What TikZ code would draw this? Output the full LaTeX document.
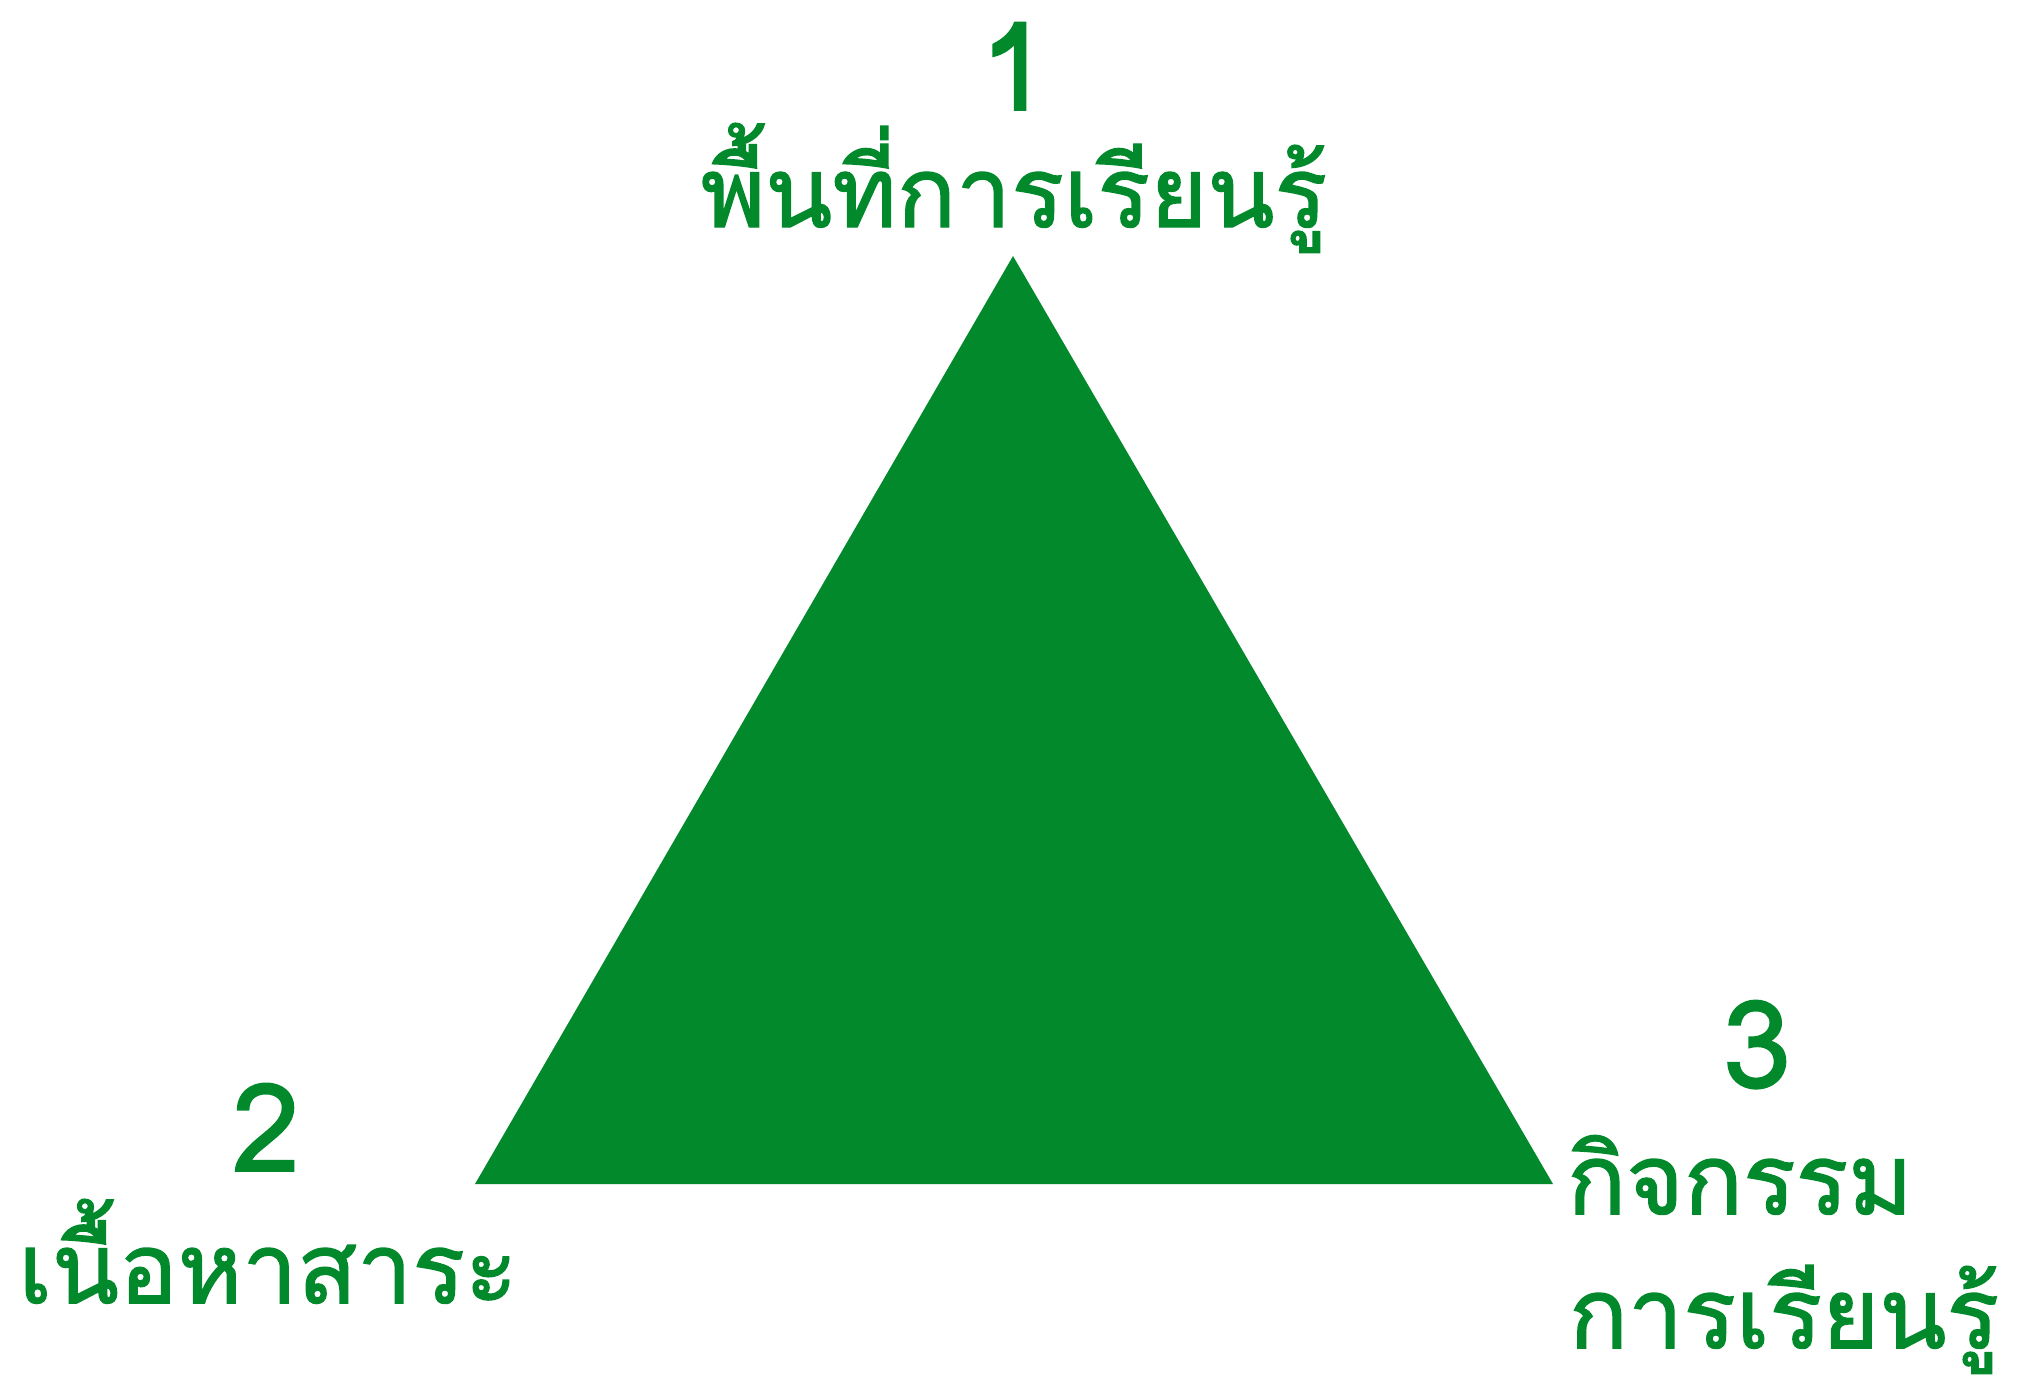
\documentclass[tikz,border=0pt]{standalone}
\usepackage{fontspec}
\newfontfamily\thaifont[Script=Thai,FakeBold=1.5]{Loma}
\definecolor{leafgreen}{RGB}{2, 137, 44}
\usepackage{tikz}

\begin{document}
\begin{tikzpicture}[x=1pt, y=-1pt,
    label/.style={anchor=base, inner sep=0pt, text=leafgreen, font=\thaifont\fontsize{98}{120}\selectfont},
    number/.style={label, font=\thaifont\fontsize{122}{144}\selectfont}]
    \useasboundingbox (0,0) rectangle (2023,1382);

    % Triangle
    \coordinate (apex) at (1013,256);
    \coordinate (left) at (475,1184);
    \coordinate (right) at (1553,1184);
    \fill[leafgreen] (apex) -- (left) -- (right) -- cycle;

    % Top corner
    \node[number] (num1) at (1014,110) {1};
    \node[label] (space) at (1014,227) {พื้นที่การเรียนรู้};

    % Left corner
    \node[number] (num2) at (266,1171) {2};
    \node[label] (content) at (268,1303) {เนื้อหาสาระ};

    % Right corner
    \node[number] (num3) at (1757,1088) {3};
    \node[label] (activity) at (1740,1214) {กิจกรรม};
    \node[label] (learning) at (1784,1348) {การเรียนรู้};
\end{tikzpicture}
\end{document}
